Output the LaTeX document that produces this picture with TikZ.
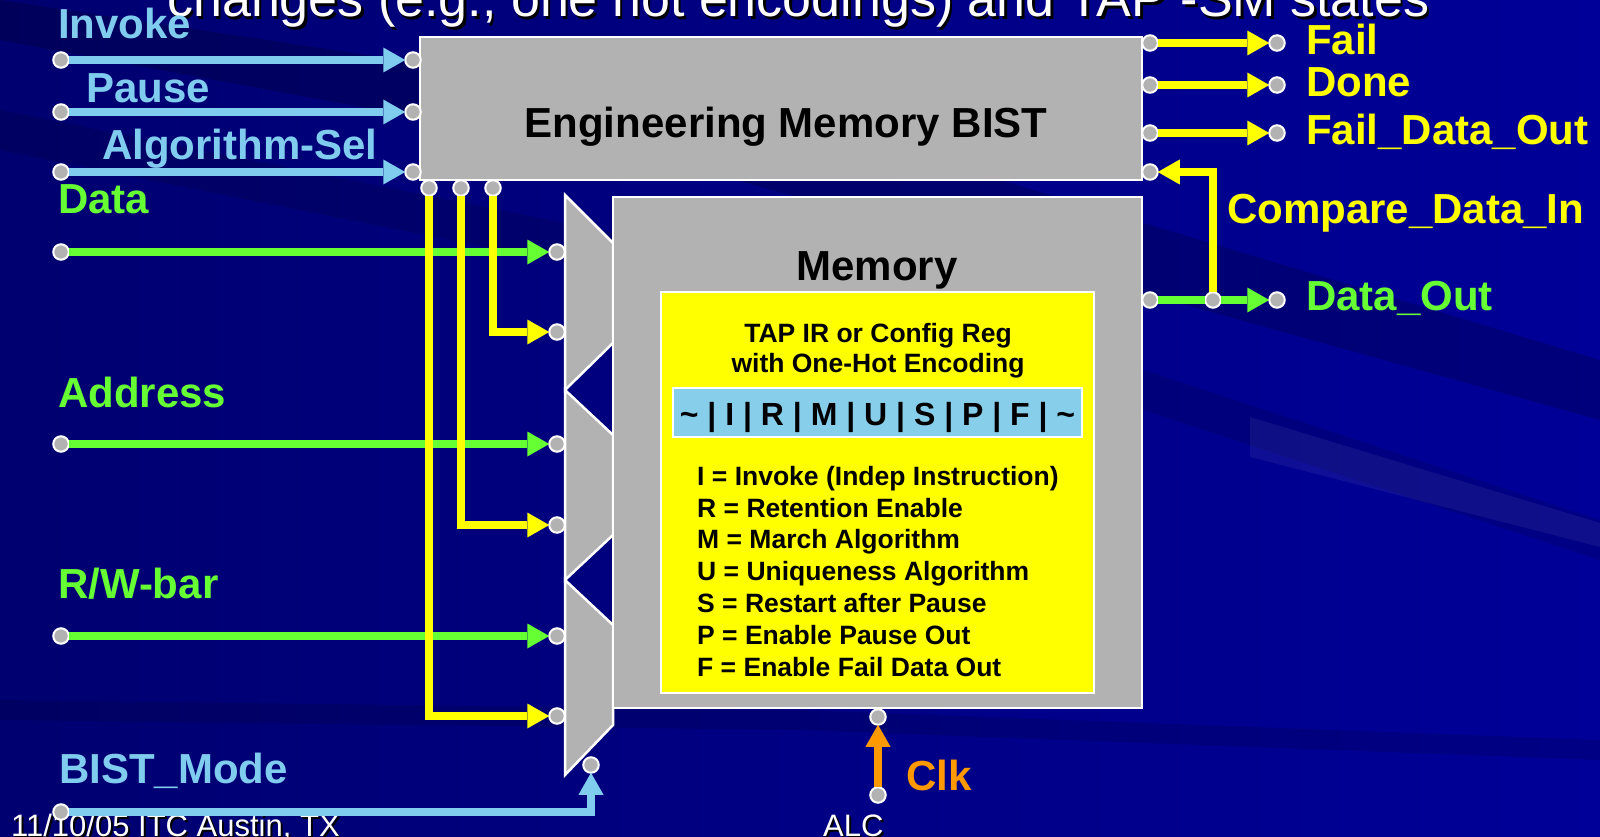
\documentclass[tikz,border=0pt]{standalone}
\usepackage{fontspec}
\setmainfont{Liberation Sans}
\usetikzlibrary{arrows.meta}
\definecolor{bgL}{HTML}{000070}
\definecolor{bgR}{HTML}{000098}
\definecolor{sky}{HTML}{80CCEE}
\definecolor{lgreen}{HTML}{66FF33}
\definecolor{yel}{HTML}{FFFF00}
\definecolor{gry}{HTML}{B2B2B2}
\definecolor{org}{HTML}{FF9900}
\definecolor{barblue}{HTML}{87CEEB}
\tikzset{
  pin/.style={circle, fill=gry, draw=white, line width=2pt, minimum size=15.5pt, inner sep=0pt, outer sep=0pt},
  wire/.style={line width=7.5pt, -{Triangle[length=22pt,width=25pt,line width=0pt]}},
  plainwire/.style={line width=7.5pt},
  blk/.style={fill=gry, draw=white, line width=2.5pt},
  big/.style={font=\fontsize{42}{50}\selectfont\bfseries, inner sep=0pt, anchor=base west},
  small/.style={font=\fontsize{26.5}{30}\selectfont\bfseries, inner sep=0pt, anchor=base west},
  foot/.style={font=\fontsize{31}{36}\selectfont, inner sep=0pt, anchor=base west},
}
\begin{document}
\begin{tikzpicture}[x=1pt,y=-1pt]
\useasboundingbox (0,0) rectangle (1600,837);
\clip (0,0) rectangle (1600,837);
% background
\fill[left color=bgL, right color=bgR] (0,0) rectangle (1600,837);
\fill[black, opacity=0.18] (0,40) -- (700,170) -- (1600,420) -- (1600,360) -- (800,120) -- (0,0) -- cycle;
\fill[black, opacity=0.12] (0,150) -- (900,330) -- (1600,560) -- (1600,520) -- (900,290) -- (0,110) -- cycle;
\fill[black, opacity=0.12] (0,700) -- (800,710) -- (1600,740) -- (1600,760) -- (800,730) -- (0,720) -- cycle;
\fill[white, opacity=0.06] (1250,417) -- (1600,523) -- (1600,547) -- (1250,457) -- cycle;
% title (cut off) and footer
\node[font=\fontsize{52}{60}\selectfont, inner sep=0pt, anchor=base west, text=black] at (169.5,19.5) {changes (e.g., one hot encodings) and TAP -SM states};
\node[font=\fontsize{52}{60}\selectfont, inner sep=0pt, anchor=base west, text=white] (title) at (167,17) {changes (e.g., one hot encodings) and TAP -SM states};
\node[foot, text=black] at (13,838) {11/10/05 ITC Austin, TX};
\node[foot, text=white] (footer) at (11,836) {11/10/05 ITC Austin, TX};
\node[foot, text=black] at (825,838) {ALC};
\node[foot, text=white] (alc) at (823,836) {ALC};
% blocks
\draw[blk] (420,37) rectangle (1142,180);
\node[big, anchor=base] (embt) at (786,138) {Engineering Memory BIST};
\draw[blk] (565,195) -- (613,243) -- (613,343) -- (565,390) -- cycle;
\draw[blk] (565,390) -- (613,435) -- (613,535) -- (565,580) -- cycle;
\draw[blk] (565,580) -- (613,625) -- (613,725) -- (565,775) -- cycle;
\draw[blk] (613,197) rectangle (1142,708);
\node[big, anchor=base] (memt) at (877,280) {Memory};
\draw[fill=yel, draw=white, line width=2.5pt] (661,292) rectangle (1094,693);
\node[small, anchor=base] (tap1) at (878,342) {TAP IR or Config Reg};
\node[small, anchor=base] (tap2) at (878,372) {with One-Hot Encoding};
\draw[fill=barblue, draw=white, line width=2.5pt] (673,388) rectangle (1082,437);
\node[font=\fontsize{32}{36}\selectfont\bfseries, inner sep=0pt, anchor=base] (bar) at (877.5,425) {\textasciitilde{} | I | R | M | U | S | P | F | \textasciitilde};
\node[small] (l1) at (697,485) {I = Invoke (Indep Instruction)};
\node[small] (l2) at (697,517) {R = Retention Enable};
\node[small] (l3) at (697,548.5) {M = March Algorithm};
\node[small] (l4) at (697,580) {U = Uniqueness Algorithm};
\node[small] (l5) at (697,612) {S = Restart after Pause};
\node[small] (l6) at (697,644) {P = Enable Pause Out};
\node[small] (l7) at (697,676) {F = Enable Fail Data Out};
% labels
\node[big, text=sky] (tInv) at (58,39) {Invoke};
\node[big, text=sky] (tPau) at (86,103) {Pause};
\node[big, text=sky] (tAlg) at (102,160) {Algorithm-Sel};
\node[big, text=lgreen] (tDat) at (58,213) {Data};
\node[big, text=lgreen] (tAdr) at (58,407) {Address};
\node[big, text=lgreen] (tRW) at (58,598) {R/W-bar};
\node[big, text=sky] (tBM) at (59,783) {BIST\_Mode};
\node[big, text=yel] (tFail) at (1306,55) {Fail};
\node[big, text=yel] (tDone) at (1306,97) {Done};
\node[big, text=yel] (tFDO) at (1306,145) {Fail\_Data\_Out};
\node[big, text=yel] (tCDI) at (1227,223) {Compare\_Data\_In};
\node[big, text=lgreen] (tDO) at (1306,310) {Data\_Out};
\node[big, text=org] (tClk) at (906,790) {Clk};
% pins
\node[pin] (si1) at (61,60) {};
\node[pin] (si2) at (61,112) {};
\node[pin] (si3) at (61,172) {};
\node[pin] (ei1) at (413,60) {};
\node[pin] (ei2) at (413,112) {};
\node[pin] (ei3) at (413,172) {};
\node[pin] (eo1) at (1150,43) {};
\node[pin] (eo2) at (1150,85) {};
\node[pin] (eo3) at (1150,133) {};
\node[pin] (eo4) at (1150,172) {};
\node[pin] (to1) at (1277,43) {};
\node[pin] (to2) at (1277,85) {};
\node[pin] (to3) at (1277,133) {};
\node[pin] (mo) at (1150,300) {};
\node[pin] (jn) at (1213,300) {};
\node[pin] (dout) at (1277,300) {};
\node[pin] (b1) at (429,188) {};
\node[pin] (b2) at (461,188) {};
\node[pin] (b3) at (493,188) {};
\node[pin] (m1) at (557,252) {};
\node[pin] (m2) at (557,332) {};
\node[pin] (m3) at (557,444) {};
\node[pin] (m4) at (557,525) {};
\node[pin] (m5) at (557,636) {};
\node[pin] (m6) at (557,716) {};
\node[pin] (sd) at (61,252) {};
\node[pin] (sa) at (61,444) {};
\node[pin] (sr) at (61,636) {};
\node[pin] (bm0) at (61,812) {};
\node[pin] (bm1) at (591,765) {};
\node[pin] (ck0) at (878,795) {};
\node[pin] (ck1) at (878,717) {};
% wires
\draw[wire, sky] (si1) -- (ei1);
\draw[wire, sky] (si2) -- (ei2);
\draw[wire, sky] (si3) -- (ei3);
\draw[wire, lgreen] (sd) -- (m1);
\draw[wire, lgreen] (sa) -- (m3);
\draw[wire, lgreen] (sr) -- (m5);
\draw[wire, yel] (b3) |- (m2);
\draw[wire, yel] (b2) |- (m4);
\draw[wire, yel] (b1) |- (m6);
\draw[wire, yel] (eo1) -- (to1);
\draw[wire, yel] (eo2) -- (to2);
\draw[wire, yel] (eo3) -- (to3);
\draw[plainwire, lgreen] (mo) -- (jn);
\draw[wire, lgreen] (jn) -- (dout);
\draw[wire, yel] (jn) |- (eo4);
\draw[wire, sky] (bm0) -| (bm1);
\draw[wire, org] (ck0) -- (ck1);
\end{tikzpicture}
\end{document}
